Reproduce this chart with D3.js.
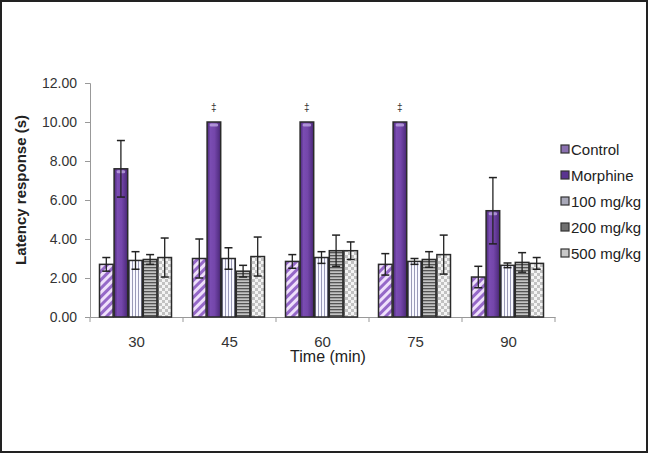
<!DOCTYPE html>
<html><head><meta charset="utf-8">
<script src="https://cdn.jsdelivr.net/npm/d3@7"></script>
<style>body{margin:0;background:#fff}svg{display:block}text{font-family:"Liberation Sans",Arial,sans-serif}</style>
</head><body><svg id="c" width="649" height="454"></svg>
<script>
const categories = ["30","45","60","75","90"];
const seriesNames = ["Control","Morphine","100 mg/kg","200 mg/kg","500 mg/kg"];
const control     = [2.7, 3.0, 2.85, 2.7, 2.05];
const controlErr  = [0.35, 1.0, 0.35, 0.55, 0.55];
const morphine    = [7.6, 10.0, 10.0, 10.0, 5.45];
const morphineErr = [1.45, 0, 0, 0, 1.7];
const mg100       = [2.9, 3.0, 3.05, 2.85, 2.65];
const mg100Err    = [0.45, 0.55, 0.3, 0.15, 0.12];
const mg200       = [2.95, 2.35, 3.4, 2.95, 2.8];
const mg200Err    = [0.25, 0.3, 0.8, 0.4, 0.5];
const mg500       = [3.05, 3.1, 3.4, 3.2, 2.75];
const mg500Err    = [1.0, 1.0, 0.45, 1.0, 0.3];
const yTicks = [0,2,4,6,8,10,12];
const sigMarks = ["", "‡", "‡", "‡", ""];

const seriesVals = [control, morphine, mg100, mg200, mg500];
const seriesErrs = [controlErr, morphineErr, mg100Err, mg200Err, mg500Err];

const svg = d3.select("#c");
const defs = svg.append("defs");

// patterns
const p0 = defs.append("pattern").attr("id","pCtrl").attr("patternUnits","userSpaceOnUse")
  .attr("width",6).attr("height",6).attr("patternTransform","rotate(45)");
p0.append("rect").attr("width",6).attr("height",6).attr("fill","#efe0fb");
p0.append("rect").attr("width",3).attr("height",6).attr("fill","#9568c8");

const g1 = defs.append("linearGradient").attr("id","gMor").attr("x1","0").attr("x2","1").attr("y1","0").attr("y2","0");
[["0%","#4a2878"],["25%","#7a4cb2"],["55%","#7446aa"],["100%","#4a2878"]].forEach(s=>g1.append("stop").attr("offset",s[0]).attr("stop-color",s[1]));

const p2 = defs.append("pattern").attr("id","p100").attr("patternUnits","userSpaceOnUse").attr("width",3).attr("height",3);
p2.append("rect").attr("width",3).attr("height",3).attr("fill","#f8f8ff");
p2.append("rect").attr("width",1).attr("height",3).attr("fill","#9a9ab8");

const p3 = defs.append("pattern").attr("id","p200").attr("patternUnits","userSpaceOnUse").attr("width",3).attr("height",3);
p3.append("rect").attr("width",3).attr("height",3).attr("fill","#c4c4c4");
p3.append("rect").attr("width",3).attr("height",1.3).attr("fill","#555");

const p4 = defs.append("pattern").attr("id","p500").attr("patternUnits","userSpaceOnUse").attr("width",6).attr("height",6);
p4.append("rect").attr("width",6).attr("height",6).attr("fill","#f4f4f4");
p4.append("rect").attr("width",3).attr("height",3).attr("fill","#c2c2c2");
p4.append("rect").attr("x",3).attr("y",3).attr("width",3).attr("height",3).attr("fill","#c2c2c2");

const fills = ["url(#pCtrl)","url(#gMor)","url(#p100)","url(#p200)","url(#p500)"];
const swatchFills = ["#8a70b0","#5a3490","#a8a8b8","#707070","#c8c8c8"];

// border
svg.append("rect").attr("x",1).attr("y",1).attr("width",646).attr("height",451)
  .attr("fill","none").attr("stroke","#222").attr("stroke-width",2);

const x0 = d3.scaleBand().domain(categories).range([90,555]).padding(0);
const x1 = d3.scaleBand().domain(seriesNames).range([9,82]).padding(0);
const y = d3.scaleLinear().domain([0,12]).range([317,83]);

// y axis
const ya = svg.append("g").attr("transform","translate(90,0)")
  .call(d3.axisLeft(y).tickValues(yTicks).tickFormat(d3.format(".2f")).tickSize(5).tickPadding(8));
ya.select(".domain").attr("stroke","#999");
ya.selectAll(".tick line").attr("stroke","#999");
ya.selectAll(".tick text").attr("font-size",14).attr("fill","#333").attr("font-family","'Liberation Sans',Arial,sans-serif");

// x axis
const xa = svg.append("g").attr("transform","translate(0,317)")
  .call(d3.axisBottom(x0).tickSize(0).tickPadding(19));
xa.select(".domain").attr("stroke","#999");
xa.selectAll(".tick text").attr("font-size",15).attr("fill","#333").attr("font-family","'Liberation Sans',Arial,sans-serif");
// boundary ticks
const bounds = categories.map(c=>x0(c)).concat([x0(categories[categories.length-1])+x0.bandwidth()]);
svg.append("g").selectAll("line").data(bounds).join("line")
  .attr("x1",d=>d).attr("x2",d=>d).attr("y1",317).attr("y2",322).attr("stroke","#999");

// bars
const groups = svg.append("g").selectAll("g").data(categories).join("g")
  .attr("transform",c=>`translate(${x0(c)},0)`);
groups.each(function(c,ci){
  const g = d3.select(this);
  seriesNames.forEach((s,si)=>{
    const v = seriesVals[si][ci], e = seriesErrs[si][ci];
    const bx = x1(s), bw = x1.bandwidth();
    g.append("rect").attr("x",bx+0.5).attr("y",y(v)).attr("width",bw-1).attr("height",y(0)-y(v))
      .attr("fill",fills[si]).attr("stroke","#2a2a2a").attr("stroke-width",1.5);
    if (si===1){
      g.append("rect").attr("x",bx+3).attr("y",y(v)+1.5).attr("width",bw-6).attr("height",3)
        .attr("fill","#c8b2e8").attr("opacity",0.7).attr("rx",1.5);
    }
    if (e>0){
      const cx = bx+bw/2;
      g.append("line").attr("x1",cx).attr("x2",cx).attr("y1",y(v+e)).attr("y2",y(v-e)).attr("stroke","#222").attr("stroke-width",1.3);
      [v+e,v-e].forEach(t=>g.append("line").attr("x1",cx-4).attr("x2",cx+4).attr("y1",y(t)).attr("y2",y(t)).attr("stroke","#222").attr("stroke-width",1.5));
    }
  });
  if (sigMarks[ci]){
    g.append("text").attr("x",x1("Morphine")+x1.bandwidth()/2).attr("y",y(morphine[ci])-11)
      .attr("text-anchor","middle").attr("font-size",10).attr("fill","#333").text(sigMarks[ci]);
  }
});

// axis titles
svg.append("text").attr("x",328).attr("y",362).attr("text-anchor","middle").attr("font-size",16).attr("fill","#222").text("Time (min)");
svg.append("text").attr("transform","translate(26,190) rotate(-90)").attr("text-anchor","middle")
  .attr("font-size",15).attr("font-weight","bold").attr("fill","#222").text("Latency response (s)");

// legend
const lg = svg.append("g").selectAll("g").data(seriesNames).join("g")
  .attr("transform",(d,i)=>`translate(561,${149+i*26})`);
lg.append("rect").attr("x",0).attr("y",-4).attr("width",8).attr("height",8)
  .attr("fill",(d,i)=>swatchFills[i]).attr("stroke","#333").attr("stroke-width",1.2);
lg.append("text").attr("x",10).attr("y",5.5).attr("font-size",15).attr("fill","#222").text(d=>d);
</script></body></html>
